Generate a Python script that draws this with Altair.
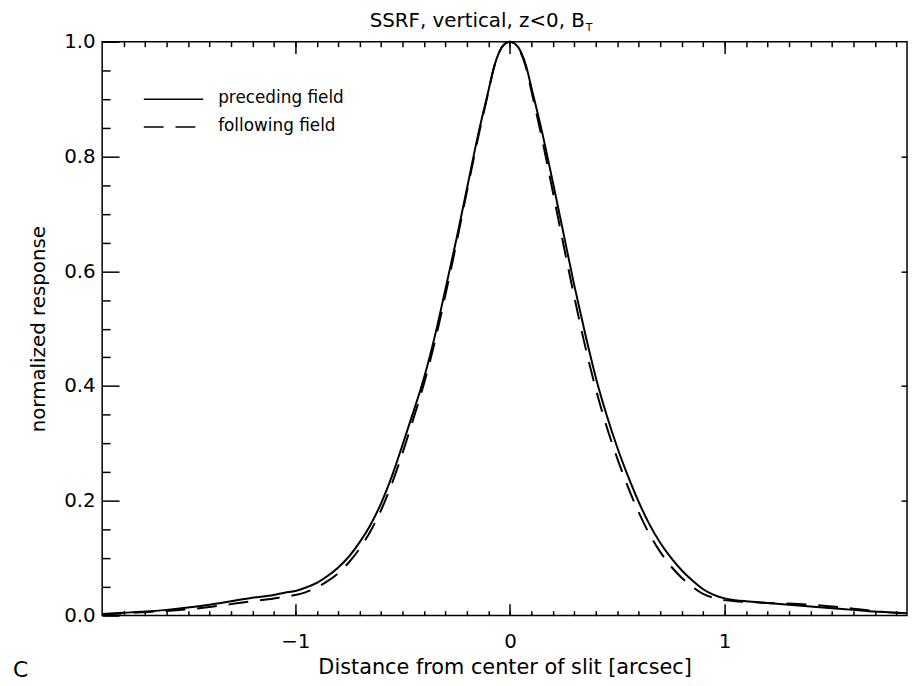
import altair as alt
import pandas as pd

# ---- data ----
x_pre = [-1.9, -1.8, -1.7, -1.6, -1.5, -1.4, -1.3, -1.2, -1.1, -1.05, -1.0, -0.95, -0.9, -0.85, -0.8,
         -0.75, -0.7, -0.65, -0.6, -0.55, -0.5, -0.45, -0.4, -0.35, -0.3, -0.25, -0.2, -0.15, -0.1, -0.075,
         -0.05, -0.025, 0.0, 0.025, 0.05, 0.075, 0.1, 0.15, 0.2, 0.25, 0.3, 0.35, 0.4, 0.45, 0.5, 0.55,
         0.6, 0.65, 0.7, 0.75, 0.8, 0.85, 0.9, 0.95, 1.0, 1.05, 1.1, 1.2, 1.3, 1.4, 1.5, 1.6, 1.7, 1.8, 1.85]
y_pre = [0.003, 0.005, 0.007, 0.010, 0.014, 0.019, 0.025, 0.031, 0.036, 0.040, 0.043, 0.049, 0.057, 0.069, 0.084,
         0.103, 0.128, 0.158, 0.196, 0.243, 0.298, 0.355, 0.415, 0.487, 0.570, 0.655, 0.745, 0.835, 0.915, 0.955,
         0.982, 0.996, 1.000, 0.996, 0.983, 0.958, 0.920, 0.842, 0.755, 0.665, 0.575, 0.492, 0.415, 0.350, 0.293, 0.243,
         0.198, 0.159, 0.127, 0.101, 0.079, 0.061, 0.046, 0.036, 0.030, 0.027, 0.025, 0.022, 0.019, 0.016, 0.013, 0.010,
         0.007, 0.005, 0.004]

x_fol = x_pre
y_fol = [0.002, 0.004, 0.006, 0.008, 0.011, 0.015, 0.020, 0.025, 0.030, 0.033, 0.036, 0.041, 0.049, 0.060, 0.074,
         0.093, 0.117, 0.147, 0.184, 0.230, 0.284, 0.343, 0.405, 0.477, 0.560, 0.648, 0.740, 0.830, 0.913, 0.954,
         0.982, 0.996, 1.000, 0.995, 0.981, 0.955, 0.914, 0.830, 0.738, 0.645, 0.555, 0.470, 0.395, 0.330, 0.274, 0.224,
         0.180, 0.142, 0.111, 0.086, 0.066, 0.050, 0.038, 0.031, 0.027, 0.025, 0.024, 0.022, 0.021, 0.019, 0.016, 0.012,
         0.008, 0.005, 0.004]

series_names = ["preceding field", "following field"]
x_major = [-1, 0, 1]
x_minor = [round(-1.8 + 0.1 * i, 1) for i in range(37)]
y_major = [0.0, 0.2, 0.4, 0.6, 0.8, 1.0]
y_minor = [round(0.05 * i, 2) for i in range(21) if i % 4 != 0]
y_right = [0.2, 0.4, 0.6, 0.8]

FONT = "DejaVu Sans"
FS_AX = 20
FS_LEG = 17
DASH = [20, 12]

pre = pd.DataFrame({"x": x_pre, "y": y_pre})
fol = pd.DataFrame({"x": x_fol, "y": y_fol})
one = pd.DataFrame({"k": [0]})

XS = alt.Scale(domain=[-1.9, 1.85], nice=False, zero=False)
YS = alt.Scale(domain=[0, 1], nice=False, zero=False)

def ax(**kw):
    base = dict(domain=False, grid=False, tickColor="black", tickWidth=1.5,
                labelFont=FONT, labelFontSize=FS_AX, labelColor="black",
                titleFont=FONT, titleFontSize=FS_AX, titleFontWeight="normal", titleColor="black")
    base.update(kw)
    return alt.Axis(**base)

def axis_layer(xaxis, yaxis):
    return alt.Chart(pre).mark_point(opacity=0).encode(
        x=alt.X("x:Q", scale=XS, axis=xaxis),
        y=alt.Y("y:Q", scale=YS, axis=yaxis),
    )

l_main = axis_layer(
    ax(orient="bottom", values=x_major, tickSize=12, offset=-12, labelPadding=16, format=".0f",
       title="Distance from center of slit [arcsec]", titlePadding=5, titleFontSize=21),
    ax(orient="left", values=y_major, tickSize=17, offset=-17, labelPadding=7, format=".1f",
       title="normalized response", titlePadding=15),
)
l_minor = axis_layer(
    ax(orient="bottom", values=x_minor, tickSize=5, offset=-5, labels=False, title=None),
    ax(orient="left", values=y_minor, tickSize=8, offset=-8, labels=False, title=None),
)
l_top = axis_layer(
    ax(orient="top", values=x_major, tickSize=12, offset=-12, labels=False, title=None),
    ax(orient="right", values=y_right, tickSize=6, offset=-6, labels=False, title=None),
)
l_top_minor = alt.Chart(pre).mark_point(opacity=0).encode(
    x=alt.X("x:Q", scale=XS, axis=ax(orient="top", values=x_minor, tickSize=5, offset=-5, labels=False, title=None)),
    y=alt.Y("y:Q", scale=YS, axis=None),
)

line_pre = alt.Chart(pre).mark_line(color="black", strokeWidth=2, interpolate="monotone").encode(
    x=alt.X("x:Q", scale=XS, axis=None), y=alt.Y("y:Q", scale=YS, axis=None))
line_fol = alt.Chart(fol).mark_line(color="black", strokeWidth=2, strokeDash=DASH, interpolate="monotone").encode(
    x=alt.X("x:Q", scale=XS, axis=None), y=alt.Y("y:Q", scale=YS, axis=None))

# legend (drawn by hand, IDL style)
leg_solid = alt.Chart(one).mark_rule(color="black", strokeWidth=1.5).encode(
    x=alt.value(42), x2=alt.value(102), y=alt.value(58))
leg_dash = alt.Chart(one).mark_rule(color="black", strokeWidth=1.5, strokeDash=DASH).encode(
    x=alt.value(42), x2=alt.value(102), y=alt.value(86))
leg_t1 = alt.Chart(one).mark_text(text=series_names[0], align="left", baseline="middle",
                                  font=FONT, fontSize=FS_LEG, color="black").encode(x=alt.value(117), y=alt.value(57))
leg_t2 = alt.Chart(one).mark_text(text=series_names[1], align="left", baseline="middle",
                                  font=FONT, fontSize=FS_LEG, color="black").encode(x=alt.value(117), y=alt.value(85))

# title with subscript
title_main = alt.Chart(one).mark_text(text="SSRF, vertical, z<0, B", align="right", baseline="alphabetic",
                                      font=FONT, fontSize=20, color="black").encode(x=alt.value(487), y=alt.value(-15))
title_sub = alt.Chart(one).mark_text(text="T", align="left", baseline="alphabetic",
                                     font=FONT, fontSize=11, color="black").encode(x=alt.value(488), y=alt.value(-11))
panel_c = alt.Chart(one).mark_text(text="C", align="left", baseline="alphabetic",
                                   font=FONT, fontSize=22, color="black").encode(x=alt.value(-90), y=alt.value(641))

chart = alt.layer(
    l_main, l_minor, l_top, l_top_minor, line_pre, line_fol,
    leg_solid, leg_dash, leg_t1, leg_t2, title_main, title_sub, panel_c,
).resolve_axis(x="independent", y="independent").properties(
    width=812, height=579,
    autosize=alt.AutoSizeParams(type="none"),
    padding={"left": 95, "top": 31, "right": 1, "bottom": 68},
).configure_view(stroke="black", strokeWidth=1.5)

chart.save("out.html", embed_options={"renderer": "svg", "actions": False})
